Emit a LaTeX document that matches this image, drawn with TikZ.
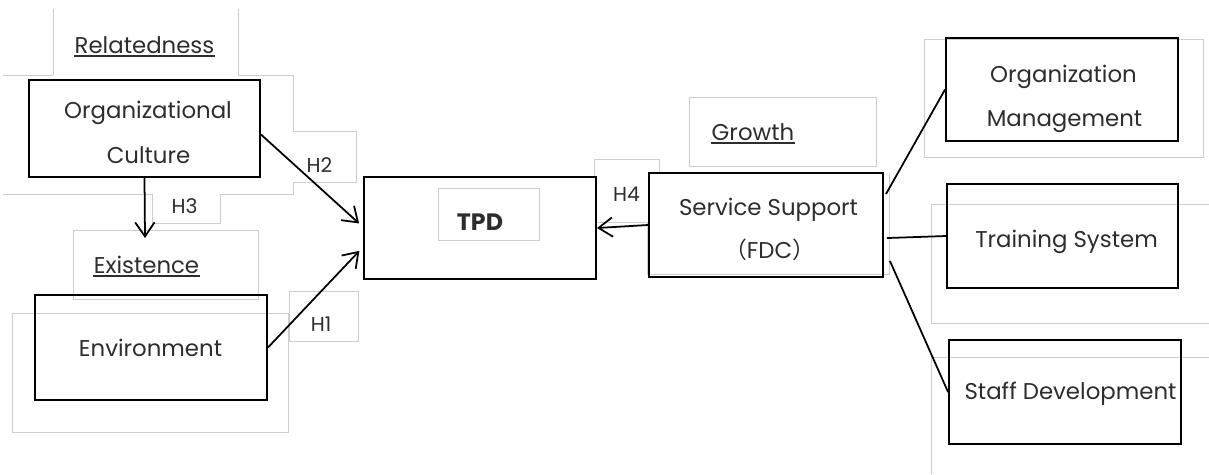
\documentclass[tikz,border=0pt]{standalone}
\usepackage{fontspec}
\setmainfont{Poppins}
\newfontfamily\cjk{Noto Sans CJK SC}
\usetikzlibrary{arrows.meta,calc}
\definecolor{txt}{RGB}{45,45,45}
\definecolor{frm}{RGB}{205,205,205}
\begin{document}
\begin{tikzpicture}[x=0.02cm,y=-0.02cm,
  blackbox/.style 2 args={draw=black, line width=1.1pt, minimum width=#1*0.02cm, minimum height=#2*0.02cm, inner sep=0pt},
  lbl/.style={anchor=base, inner sep=0pt, text=txt, font=\fontsize{13}{15}\selectfont},
  hlbl/.style={anchor=base, inner sep=0pt, text=txt, font=\fontsize{11.5}{13}\selectfont},
  conn/.style={line width=1pt, black},
  arr/.style={conn, -{Straight Barb[length=8pt,width=11pt]}},
  frame/.style={draw=frm, line width=0.5pt},
  ul/.style={line width=1.1pt, txt}]
\useasboundingbox (0,0) rectangle (1209,474);
% faint text-box frames
\draw[frame] (53,9) -- (53,75);
\draw[frame] (3,75) -- (53,75);
\draw[frame] (238,9) -- (238,75) -- (293,75) -- (293,131) -- (356,131) -- (356,182) -- (293,182) -- (293,194) -- (220,194) -- (220,223) -- (152,223) -- (152,194) -- (3,194);
\draw[frame] (73,230) rectangle (258,299);
\draw[frame] (12,313) rectangle (288,432);
\draw[frame] (289,291) rectangle (358,341);
\draw[frame] (438,188) rectangle (539,240);
\draw[frame] (594,177) -- (594,159) -- (659,159) -- (659,173);
\draw[frame] (596,222) -- (647,222) -- (647,274) -- (889,274) -- (889,173);
\draw[frame] (689,97) rectangle (876,166);
\draw[frame] (924,39) rectangle (1203,157);
\draw[frame] (1209,204) -- (931,204) -- (931,323) -- (1209,323);
\draw[frame] (1209,357) -- (931,357) -- (931,474);
% boxes
\node[blackbox={231}{97}] (oc) at (144.5,128.5) {};
\node[blackbox={232}{105}] (env) at (151,347.5) {};
\node[blackbox={232}{102}] (tpd) at (480,228) {};
\node[blackbox={234}{104}] (svc) at (766,225) {};
\node[blackbox={232}{103}] (om) at (1062,89.5) {};
\node[blackbox={231}{104}] (ts) at (1062.5,236) {};
\node[blackbox={232}{104}] (sd) at (1065,392) {};
% texts
\node[lbl] (rel) at (144.5,53) {Relatedness};
\node[lbl] (oc1) at (148,118) {Organizational};
\node[lbl] (oc2) at (148.5,163) {Culture};
\node[lbl] (exi) at (146.5,273) {Existence};
\node[lbl] (envt) at (150.5,356) {Environment};
\node[lbl, font=\fontsize{13.5}{15}\selectfont\bfseries] (tpdt) at (480,230) {TPD};
\node[lbl] (gro) at (753,140) {Growth};
\node[lbl] (svc1) at (768.5,215) {Service Support};
\node[lbl] (svc2) at (769.5,258) {{\cjk （}FDC{\cjk ）}};
\node[lbl] (om1) at (1063.5,82) {Organization};
\node[lbl] (om2) at (1064.5,126) {Management};
\node[lbl] (tst) at (1066.5,247) {Training System};
\node[lbl] (sdt) at (1070.5,399) {Staff Development};
\node[hlbl] (h1) at (321,331) {H1};
\node[hlbl] (h2) at (319.5,172) {H2};
\node[hlbl] (h3) at (184.5,213) {H3};
\node[hlbl] (h4) at (626.5,201) {H4};
% underlines
\foreach \n in {rel,exi,gro}
  \draw[ul] ([yshift=-0.06cm]\n.base west) -- ([yshift=-0.06cm]\n.base east);
% connectors
\coordinate (h3end) at (145,238);
\draw[arr, shorten >=3pt] ($(oc.east)+(0,6)$) -- ($(tpd.west)+(0,-1)$);
\draw[arr, shorten >=3pt] (env.east) -- ($(tpd.west)+(0,19)$);
\draw[arr] (oc.south) -- (h3end);
\draw[arr] (svc.west) -- (tpd.east);
\draw[conn] ($(svc.north east)+(2,22)$) -- (om.west);
\draw[conn] ($(svc.north east)+(3,66)$) -- (ts.west);
\draw[conn] ($(svc.north east)+(6,89)$) -- (sd.west);
\end{tikzpicture}
\end{document}
